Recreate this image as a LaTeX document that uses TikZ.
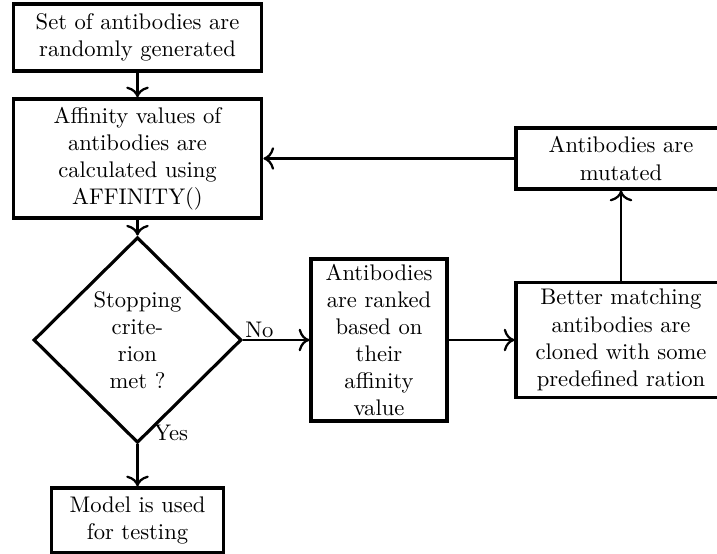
\documentclass[tikz,border=0pt]{standalone}
\usepackage{amsmath}
\usetikzlibrary{
    shapes.geometric,
    arrows.meta,
    positioning
}
\tikzset{
    block/.style={draw, line width=1.4pt, align=center, inner sep=2pt},
    decision/.style={draw, diamond, line width=1.4pt, align=center, inner sep=1pt},
    arr/.style={-{To[scale=1.25]}, line width=1pt}
}

\begin{document}
\begin{tikzpicture}[x=0.4425pt, y=-0.4425pt]
    \useasboundingbox (0, 0) rectangle (717, 554);

    \node[block, minimum width=110pt, minimum height=29.6pt] (gen) at (137.5, 37.5)
        {Set of antibodies are\\randomly generated};
    \node[block, minimum width=110pt, minimum height=52.7pt] (aff) at (137.5, 158.5)
        {Affinity values of\\antibodies are\\calculated using\\AFFINITY()};
    \node[decision, minimum width=92pt, minimum height=91pt] (stop) at (137.5, 340)
        {Stopping\\crite-\\rion\\met ?};
    \node[block, minimum width=76pt, minimum height=28.8pt] (model) at (137.5, 520.5)
        {Model is used\\for testing};
    \node[block, minimum width=60.2pt, minimum height=71.7pt] (rank) at (379, 340)
        {Antibodies\\are ranked\\based on\\their\\affinity\\value};
    \node[block, minimum width=92.9pt, minimum height=50.9pt] (clone) at (621, 340)
        {Better matching\\antibodies are\\cloned with some\\predefined ration};
    \node[block, minimum width=92.9pt, minimum height=27pt] (mut) at (621, 158.5)
        {Antibodies are\\mutated};

    \draw[arr]
    (gen) -- (aff);
    \draw[arr]
    (aff) -- (stop);
    \draw[arr] (stop.east) -- node[pos=0, above right, inner sep=0.5pt] {No} (rank.west);
    \draw[arr] (stop.south) -- node[pos=0, right, xshift=3.5pt, yshift=5pt] {Yes} (model.north);
    \draw[arr]
    (rank) -- (clone);
    \draw[arr]
    (clone) -- (mut);
    \draw[arr] (mut.west) -- (aff.east);
\end{tikzpicture}
\end{document}
